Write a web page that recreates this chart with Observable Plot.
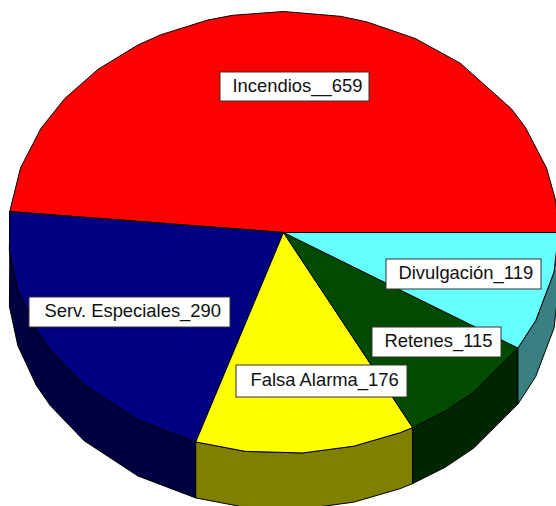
<!DOCTYPE html>
<html><head><meta charset="utf-8">
<style>html,body{margin:0;padding:0;background:#fff}svg{display:block}</style>
<script src="https://cdn.jsdelivr.net/npm/d3@7"></script>
<script src="https://cdn.jsdelivr.net/npm/@observablehq/plot@0.6"></script>
</head><body><div id="chart"></div>
<script>
// Data
const categories = ["Incendios","Serv. Especiales","Falsa Alarma","Retenes","Divulgación"];
const separators = ["__","_","_","_","_"];
const values = [659,290,176,115,119];
// Colours
const topColors  = ["#ff0000","#000080","#ffff00","#004b00","#66ffff"];
const sideColors = ["#800000","#000040","#808000","#002600","#3a8080"];
// Layout of the tilted disc, in SVG pixels
const cx = 283, cy = 232, rx = 275, ry = 221, depth = 56;
// Angles at which the source's outline has a corner
const outlineCorners = [8.4,16.9,28.4,34,50,61.4,72.3,78,90,100.7,106,116.6,122,132.4,142.7,151.9,163,184.7,195,206,212,223.5,238,262,274,284.8,295,306,313.7,336.5,349.7];
// Label box layout [x1,y1,x2,y2,textX]
const labelLayout = [
  [220,72,369,101,232],
  [29,297,230,327,44],
  [236,365,407,397,250],
  [372,327,501,357,384],
  [386,259,541,289,398]
];

const total = d3.sum(values);
let acc = 0;
const slices = categories.map((name,i)=>{
  const a0 = acc/total*360; acc += values[i]; const a1 = acc/total*360;
  return {name,i,a0,a1};
});
const pt = (a,dy=0)=>{
  const r = a*Math.PI/180;
  return [cx+rx*Math.cos(r), cy-ry*Math.sin(r)+dy];
};
const arcAngles = (a0,a1)=>[a0,...outlineCorners.filter(k=>k>a0+1e-6&&k<a1-1e-6),a1];
const faceRows=[], sideRows=[];
for(const s of slices){
  const arc = arcAngles(s.a0,s.a1);
  const ring = [[cx,cy],...arc.map(a=>pt(a)),[cx,cy]];
  ring.forEach(p=>faceRows.push({key:s.name,x:p[0],y:p[1],fill:topColors[s.i]}));
  if(s.a1>180){
    const side=[...arc.map(a=>pt(a)),...arc.slice().reverse().map(a=>pt(a,depth))];
    side.push(side[0]);
    side.forEach(p=>sideRows.push({key:s.name,x:p[0],y:p[1],fill:sideColors[s.i]}));
  }
}
const labels = categories.map((c,i)=>({
  text:c+separators[i]+values[i],
  x1:labelLayout[i][0],y1:labelLayout[i][1],x2:labelLayout[i][2],y2:labelLayout[i][3],tx:labelLayout[i][4]
}));
const lineOpts = {x:"x",y:"y",z:"key",fill:"fill",stroke:"#000",strokeWidth:1,curve:"linear"};
const plot = Plot.plot({
  width:556,height:506,margin:0,
  style:{background:"#fff"},
  x:{domain:[0,556],range:[0,556],axis:null},
  y:{domain:[0,506],range:[0,506],axis:null},
  color:{type:"identity"},
  marks:[
    Plot.line(sideRows,lineOpts),
    Plot.line(faceRows,lineOpts),
    Plot.rect(labels,{x1:"x1",x2:"x2",y1:"y1",y2:"y2",fill:"#fff",stroke:"#333",strokeWidth:1}),
    Plot.text(labels,{x:"tx",y:d=>(d.y1+d.y2)/2-1,text:"text",textAnchor:"start",fontFamily:"Liberation Sans",fontSize:18.4,fill:"#111"})
  ]
});
document.getElementById("chart").append(plot);
</script></body></html>
